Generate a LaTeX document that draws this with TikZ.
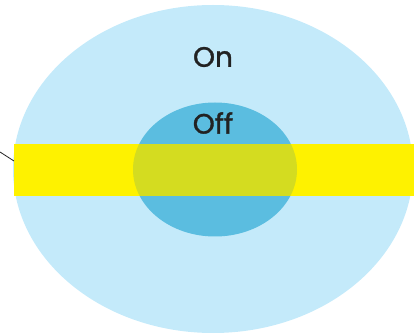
\documentclass[tikz,border=0pt]{standalone}
\usepackage{fontspec}
\setmainfont{Poppins}[FakeBold=1.2]
\definecolor{outerblue}{HTML}{C4EAFA}
\definecolor{innerblue}{HTML}{5BBDE0}
\definecolor{bandyellow}{HTML}{FEF200}
\definecolor{overlap}{HTML}{D4DC20}
\definecolor{txt}{HTML}{222222}
\begin{document}
\begin{tikzpicture}[x=1pt,y=-1pt,
  lbl/.style={font=\fontsize{28}{30}\selectfont, text=txt, inner sep=0pt}]
\useasboundingbox (0,0) rectangle (414,336);
% outer ellipse
\fill[outerblue] (213,169) ellipse [x radius=200, y radius=164];
% inner ellipse
\fill[innerblue] (215,169.5) ellipse [x radius=82, y radius=67];
% band
\fill[bandyellow] (14,144) rectangle (414,196);
\begin{scope}
  \clip (215,169.5) ellipse [x radius=82, y radius=67];
  \fill[overlap] (14,144) rectangle (414,196);
\end{scope}
\node[lbl] (on) at (213,57) {On};
\node[lbl] (off) at (213,123) {Off};
\coordinate (leadA) at (0,152);
\coordinate (leadB) at (14,161);
\draw[txt, line width=0.8pt] (leadA) -- (leadB);
\end{tikzpicture}
\end{document}
